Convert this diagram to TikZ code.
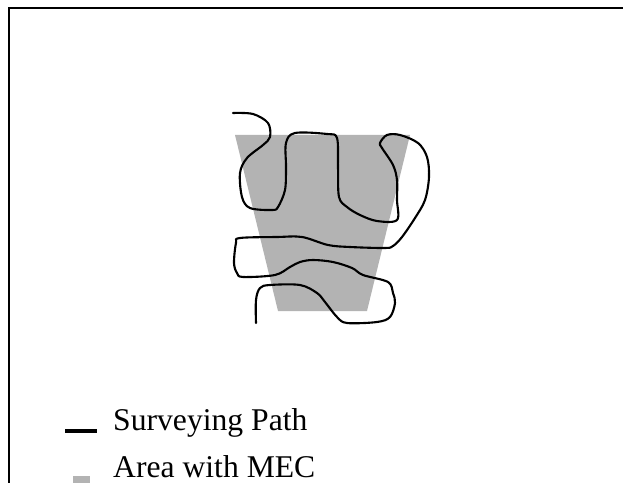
\documentclass[tikz,border=0pt]{standalone}
\usepackage{fontspec}
\setmainfont{Liberation Serif}
\usepackage{tikz}
\usetikzlibrary{positioning}
\usepackage{xcolor}
\definecolor{mecgray}{HTML}{B3B3B3}

\begin{document}
\begin{tikzpicture}[
    x=0.03cm, y=-0.03cm,
    area/.style={fill=mecgray, draw=none},
    survey/.style={line width=1.8pt, line join=round, line cap=round},
    legtext/.style={anchor=base west, inner sep=0pt, font=\fontsize{27}{32}\selectfont},
    every node/.style={inner sep=0pt}
]
\useasboundingbox (0,0) rectangle (623,483);

% frame
\draw[line width=1.6pt] (9,483) -- (9,8) -- (625,8);

% Area with MEC
\fill[area] (235,135) -- (410,135) -- (367,311) -- (278,311) -- cycle;

% Surveying path
\draw[survey] plot[smooth, tension=0.55] coordinates {
    (233,113) (253,114) (268,123) (270,137) (263,145) (247,158) (240,173)
    (242,197) (250,208) (272,210) (278,207) (285,190) (286,167) (286,143)
    (295,133) (327,134) (337,138) (338,167) (339,197) (347,207) (360,215)
    (377,221) (397,220) (397,200) (397,180) (393,165) (382,148) (380,143)
    (387,135) (400,135) (418,143) (427,157) (429,177) (425,200) (415,218)
    (402,237) (393,246) (385,248) (350,247) (328,245) (302,237) (277,237)
    (240,238) (236,243) (234,263) (237,273) (243,277) (275,275) (290,267)
    (300,262) (313,260) (333,262) (352,268) (363,275) (388,282) (393,293)
    (395,303) (390,317) (377,322) (347,323) (337,317) (325,302) (317,293)
    (300,285) (270,285) (260,288) (256,300) (256,323)
};

% Legend
\node[legtext] (pathtext) at (113,430) {Surveying Path};
\node[legtext] (areatext) at (113,477) {Area with MEC};
\coordinate (pathkeyL) at (65,431);
\coordinate (pathkeyR) at (97,431);
\draw[line width=2.6pt] (pathkeyL) -- (pathkeyR);
\fill[mecgray] (73,476) rectangle (90,494);

\end{tikzpicture}
\end{document}
